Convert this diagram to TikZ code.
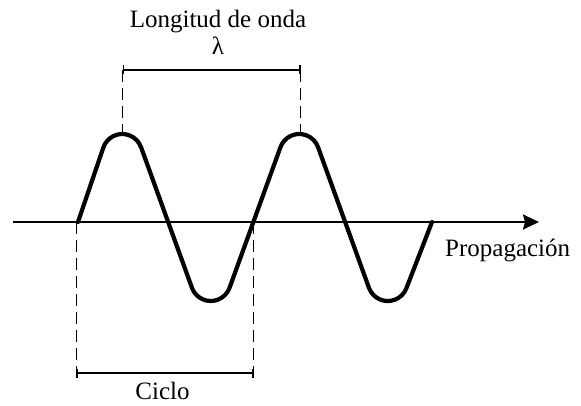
\documentclass[tikz,border=0pt]{standalone}
\usepackage{fontspec}
\setmainfont{Liberation Serif}
\usetikzlibrary{arrows.meta}
\begin{document}
\begin{tikzpicture}[x=1pt,y=1pt,
  wave/.style={line width=4.2pt,line join=round,line cap=round},
  axisline/.style={line width=2pt,-{Stealth[length=16pt,width=15pt,inset=2pt]}},
  guide/.style={line width=1.6pt,dash pattern=on 12pt off 6pt},
  dimline/.style={line width=1.4pt,{Bar[width=9pt,line width=1.4pt]}-{Bar[width=9pt,line width=1.4pt]}},
  lbl/.style={font=\fontsize{25}{29}\selectfont,inner sep=0pt}]
\useasboundingbox (0,0) rectangle (581,405);
% axis
\coordinate (axL) at (13,183);
\coordinate (axR) at (539,183);
\draw[axisline] (axL) -- (axR);
% wave
\draw[wave] (78,183) -- (103.33,257.44)
  arc[start angle=161.2,end angle=18.8,radius=20pt]
  -- (192.09,116.79)
  arc[start angle=201.1,end angle=338.9,radius=20pt]
  -- (280.33,257.44)
  arc[start angle=161.2,end angle=18.8,radius=20pt]
  -- (369.09,116.79)
  arc[start angle=201.1,end angle=338.9,radius=20pt]
  -- (432,183);
% wavelength
\coordinate (p1) at (122.5,272);
\coordinate (p2) at (300.5,272);
\coordinate (w1) at (122.5,335);
\coordinate (w2) at (300.5,335);
\draw[guide] (w1) -- (p1);
\draw[guide] (w2) -- (p2);
\draw[dimline] (w1) -- (w2);
\node[lbl,anchor=base] (lam) at (218,350) {λ};
\node[lbl,anchor=base] (lon) at (218,377) {Longitud de onda};
% cycle
\coordinate (z1) at (76.5,183);
\coordinate (z2) at (253.5,183);
\coordinate (c1) at (76.5,32);
\coordinate (c2) at (253.5,32);
\coordinate (e1) at (76.5,25);
\coordinate (e2) at (253.5,25);
\draw[guide] (z1) -- (e1);
\draw[guide] (z2) -- (e2);
\draw[dimline] (c1) -- (c2);
\node[lbl,anchor=base] (cic) at (162.5,6) {Ciclo};
\node[lbl,anchor=base west] (prop) at (445,149) {Propagación};
\end{tikzpicture}
\end{document}
